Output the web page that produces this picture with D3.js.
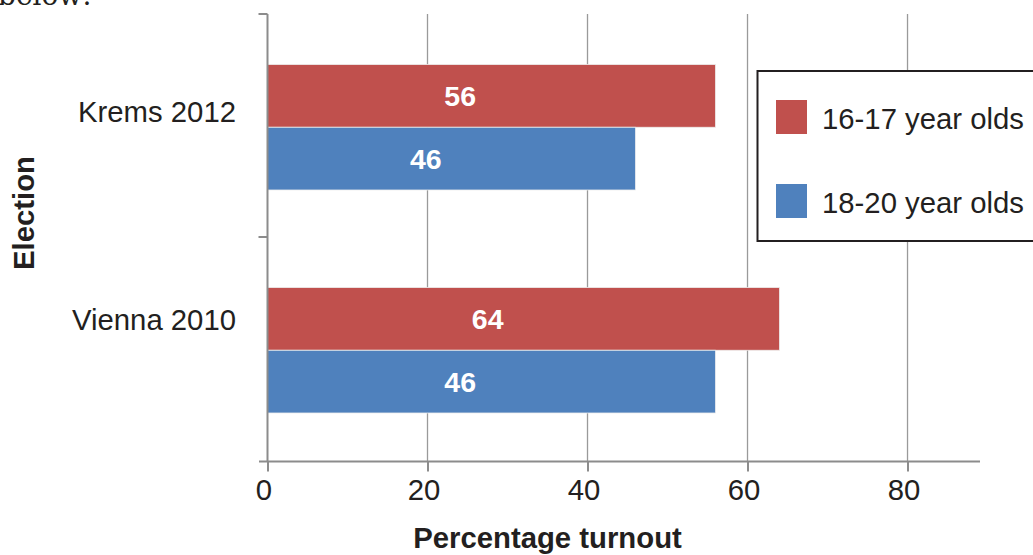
<!DOCTYPE html>
<html>
<head>
<meta charset="utf-8">
<script src="https://cdn.jsdelivr.net/npm/d3@7"></script>
<style>
  html, body { margin: 0; padding: 0; background: #fff; }
  svg { display: block; }
  text { font-family: "Liberation Sans", Arial, sans-serif; fill: #231f20; }
</style>
</head>
<body>
<svg id="chart" width="1033" height="555"></svg>
<script>
// ---- data ----
const categories = ["Krems 2012", "Vienna 2010"];
const seriesNames = ["16-17 year olds", "18-20 year olds"];
const seriesColors = ["#c0504d", "#4f81bd"];
// bar lengths as drawn in the reference
const youngValues = [56, 64];   // 16-17 year olds
const olderValues = [46, 56];   // 18-20 year olds
// printed labels inside bars (as they appear in the reference)
const youngLabels = ["56", "64"];
const olderLabels = ["46", "46"];
const xTicks = [0, 20, 40, 60, 80];
const xTitle = "Percentage turnout";
const yTitle = "Election";

const svg = d3.select("#chart");
const FS = "29.3px";

// ---- scales ----
const x = d3.scaleLinear().domain([0, 89.06]).range([267.5, 980]);
const y = d3.scaleBand().domain(categories).range([14, 460]);
const yInner = d3.scaleBand().domain(seriesNames).range([50.5, 176]);
const yLabel = d3.scalePoint().domain(categories).range([122, 330]);

const rows = [];
categories.forEach((c, i) => {
  rows.push({cat: c, s: seriesNames[0], v: youngValues[i], label: youngLabels[i], color: seriesColors[0]});
  rows.push({cat: c, s: seriesNames[1], v: olderValues[i], label: olderLabels[i], color: seriesColors[1]});
});

// cut-off text from the page above
svg.append("text")
  .attr("x", -2).attr("y", 5)
  .style("font-family", "'DejaVu Serif', 'Liberation Serif', serif")
  .style("font-size", "28px")
  .text("below:");

// ---- gridlines ----
svg.append("g").selectAll("line")
  .data(xTicks.filter(d => d > 0))
  .join("line")
  .attr("x1", d => x(d)).attr("x2", d => x(d))
  .attr("y1", 14).attr("y2", 462)
  .attr("stroke", "#9a9a9a").attr("stroke-width", 1.3);

// ---- bars ----
svg.append("g").selectAll("rect")
  .data(rows)
  .join("rect")
  .attr("x", x(0))
  .attr("y", d => y(d.cat) + yInner(d.s))
  .attr("width", d => x(d.v) - x(0))
  .attr("height", yInner.bandwidth())
  .attr("fill", d => d.color)
  .attr("stroke", "#eeeeee").attr("stroke-width", 0.8);

// bar value labels
svg.append("g").selectAll("text")
  .data(rows)
  .join("text")
  .attr("x", d => x(d.v * 0.43))
  .attr("y", d => y(d.cat) + yInner(d.s) + yInner.bandwidth() / 2 + 10)
  .attr("text-anchor", "middle")
  .style("fill", "#ffffff")
  .style("font-weight", "bold")
  .style("font-size", "28.5px")
  .text(d => d.label);

// ---- axes ----
const axisColor = "#8c8c8c";
// x axis
const xAxis = svg.append("g").attr("transform", "translate(0,461.5)")
  .call(d3.axisBottom(x).tickValues(xTicks).tickSize(10).tickPadding(8).tickSizeOuter(0));
xAxis.select(".domain").remove();
xAxis.append("line").attr("x1", 259).attr("x2", 980).attr("y1", 0).attr("y2", 0)
  .attr("stroke", axisColor).attr("stroke-width", 2);
xAxis.selectAll(".tick line").attr("stroke", axisColor).attr("stroke-width", 2);
xAxis.selectAll(".tick text")
  .attr("dx", -4)
  .attr("fill", "#231f20")
  .style("font-family", "'Liberation Sans', Arial, sans-serif")
  .style("font-size", FS);

// y axis (category)
const yAxisG = svg.append("g");
yAxisG.append("line").attr("x1", x(0)).attr("x2", x(0)).attr("y1", 14).attr("y2", 462)
  .attr("stroke", axisColor).attr("stroke-width", 2);
const yEdges = [y(categories[0]), y(categories[1])];
yAxisG.selectAll("line.tk").data(yEdges).join("line").attr("class", "tk")
  .attr("x1", x(0) - 9).attr("x2", x(0)).attr("y1", d => d).attr("y2", d => d)
  .attr("stroke", axisColor).attr("stroke-width", 2);

// category labels
svg.append("g").selectAll("text")
  .data(categories)
  .join("text")
  .attr("x", 236)
  .attr("y", d => yLabel(d))
  .attr("text-anchor", "end")
  .style("font-size", FS)
  .text(d => d);

// axis titles
svg.append("text")
  .attr("x", 547.5).attr("y", 548)
  .attr("text-anchor", "middle")
  .style("font-weight", "bold").style("font-size", FS)
  .text(xTitle);
svg.append("text")
  .attr("transform", "translate(34,213) rotate(-90)")
  .attr("text-anchor", "middle")
  .style("font-weight", "bold").style("font-size", FS)
  .text(yTitle);

// ---- legend ----
const lg = svg.append("g");
lg.append("rect")
  .attr("x", 757.5).attr("y", 71).attr("width", 300).attr("height", 170)
  .attr("fill", "#ffffff").attr("stroke", "#231f20").attr("stroke-width", 2);
const legY = d3.scalePoint().domain(seriesNames).range([117, 201]);
lg.selectAll("rect.sw").data(seriesNames).join("rect").attr("class", "sw")
  .attr("x", 776).attr("y", d => legY(d) - 17).attr("width", 31).attr("height", 34)
  .attr("fill", (d, i) => seriesColors[i]);
lg.selectAll("text").data(seriesNames).join("text")
  .attr("x", 822).attr("y", d => legY(d) + 12)
  .style("font-size", FS)
  .text(d => d);
</script>
</body>
</html>
